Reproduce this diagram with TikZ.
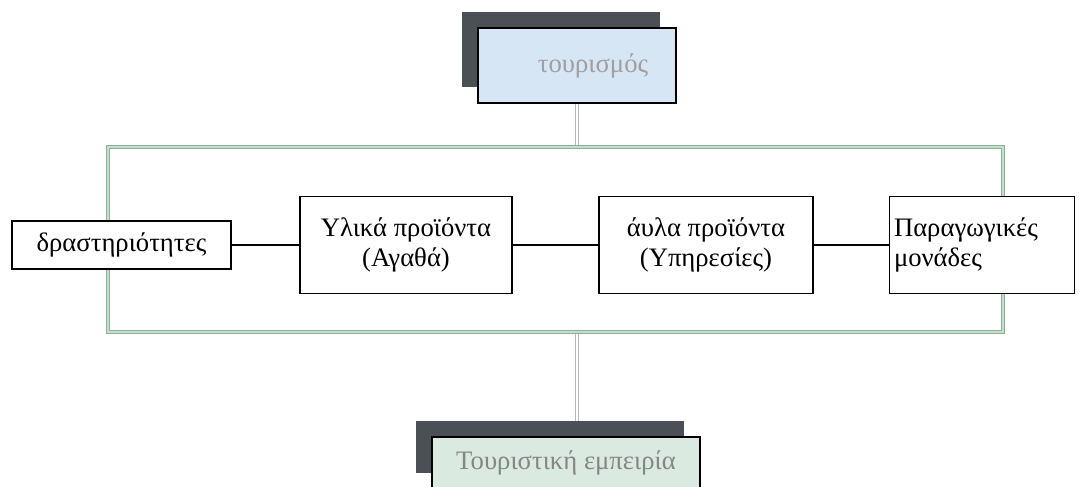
\documentclass[tikz,border=0pt]{standalone}
\usepackage{fontspec}
\setmainfont{Liberation Serif}
\usepackage{xcolor}
\usetikzlibrary{positioning, shadows, backgrounds}

\definecolor{shadowgray}{RGB}{74,80,86}
\definecolor{toplight}{RGB}{214,230,244}
\definecolor{botlight}{RGB}{218,234,224}
\definecolor{framegreen}{RGB}{140,178,150}
\definecolor{framelight}{RGB}{200,220,205}

\begin{document}
\begin{tikzpicture}[x=0.75pt,y=-0.75pt,
  font=\fontsize{20}{23}\selectfont,
  box/.style={draw, fill=white, line width=0.8pt, align=center},
  topbox/.style={draw, line width=0.8pt,
    copy shadow={shadow xshift=-12pt, shadow yshift=12pt, fill=shadowgray, draw=none}},
  pipe/.style={draw=gray!55, line width=0.6pt, double=white, double distance=1.5pt}]

\useasboundingbox (0,0) rectangle (1079,486);

% Frame
\draw[draw=framegreen, line width=1pt, double=framelight, double distance=1pt]
(108,147) rectangle (1003,332);
\coordinate (ftop) at (577,147);
\coordinate (fbot) at (577,332);

% Top and bottom boxes
\node[topbox, fill=toplight, minimum width=198*0.75pt, minimum height=75*0.75pt,
  text=gray!75] (tour) at (577,65.5) {\hspace*{1.2em}τουρισμός};
\node[topbox, fill=botlight, minimum width=268*0.75pt, minimum height=52*0.75pt,
  text=gray!95] (emp) at (566,463) {Τουριστική εμπειρία};

% Inner boxes
\node[box, minimum width=219*0.75pt, minimum height=48*0.75pt] (dras) at (121.5,245) {δραστηριότητες};
\node[box, minimum width=212*0.75pt, minimum height=97*0.75pt] (ylika) at (406,245) {Υλικά προϊόντα\\(Αγαθά)};
\node[box, minimum width=214*0.75pt, minimum height=97*0.75pt] (aula) at (706,245) {άυλα προϊόντα\\(Υπηρεσίες)};
\node[box, minimum height=97*0.75pt, text width=176*0.75pt, align=left] (parag) at (982,245) {Παραγωγικές\\μονάδες};

% Connectors
\draw[line width=0.8pt] (dras) -- (ylika);
\draw[line width=0.8pt] (ylika) -- (aula);
\draw[line width=0.8pt] (aula) -- (parag);
\begin{scope}[on background layer]
\draw[pipe] (tour.south) -- (ftop);
\draw[pipe] (fbot) -- (fbot |- emp.north);
\end{scope}

\end{tikzpicture}
\end{document}
